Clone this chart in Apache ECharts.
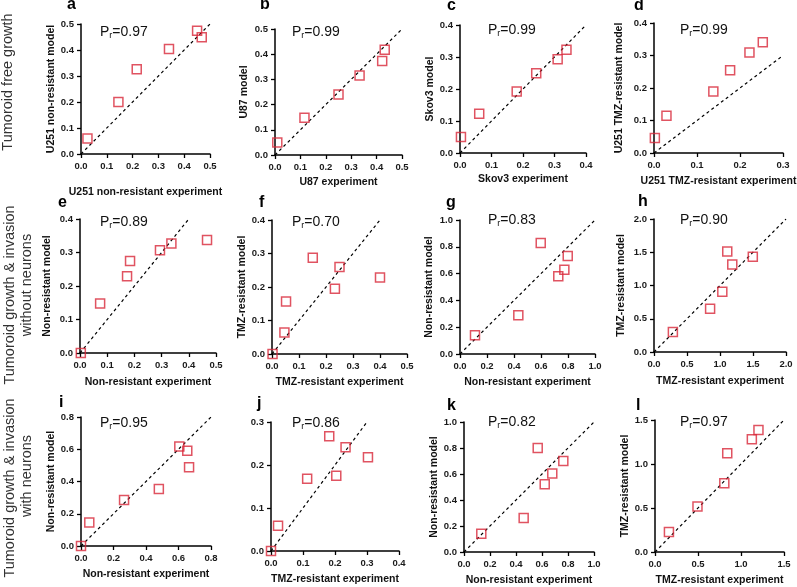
<!DOCTYPE html>
<html>
<head>
<meta charset="utf-8">
<script src="https://cdn.jsdelivr.net/npm/echarts@6/dist/echarts.min.js"></script>
<style>
  html, body { margin: 0; padding: 0; background: #fff; }
  #chart { width: 797px; height: 587px; }
</style>
</head>
<body>
<div id="chart"></div>
<script>
// panel letters, axis titles and correlation labels
const panelIds = ['a','b','c','d','e','f','g','h','i','j','k','l'];
const xNames = [
  'U251 non-resistant experiment', 'U87 experiment', 'Skov3 experiment', 'U251 TMZ-resistant experiment',
  'Non-resistant experiment', 'TMZ-resistant experiment', 'Non-resistant experiment', 'TMZ-resistant experiment',
  'Non-resistant experiment', 'TMZ-resistant experiment', 'Non-resistant experiment', 'TMZ-resistant experiment'
];
const yNames = [
  'U251 non-resistant model', 'U87 model', 'Skov3 model', 'U251 TMZ-resistant model',
  'Non-resistant model', 'TMZ-resistant model', 'Non-resistant model', 'TMZ-resistant model',
  'Non-resistant model', '', 'Non-resistant model', 'TMZ-resistant model'
];
const pearson = ['0.97','0.99','0.99','0.99','0.89','0.70','0.83','0.90','0.95','0.86','0.82','0.97'];

// axis ranges
const xMax  = [0.5, 0.5, 0.4, 0.3, 0.5, 0.5, 1.0, 2.0, 0.8, 0.4, 1.0, 1.5];
const xStep = [0.1, 0.1, 0.1, 0.1, 0.1, 0.1, 0.2, 0.5, 0.2, 0.1, 0.2, 0.5];
const yMax  = [0.5, 0.5, 0.4, 0.4, 0.4, 0.4, 1.0, 2.0, 0.8, 0.3, 1.0, 1.5];
const yStep = [0.1, 0.1, 0.1, 0.1, 0.1, 0.1, 0.2, 0.5, 0.2, 0.1, 0.2, 0.5];
// end of the y = x reference line
const diagMax = [0.5, 0.5, 0.4, 0.3, 0.4, 0.4, 1.0, 2.0, 0.8, 0.3, 1.0, 1.5];

// [experiment, model]
const ptsA = [[0.025,0.060],[0.145,0.200],[0.216,0.326],[0.341,0.404],[0.450,0.474],[0.468,0.449]];
const ptsB = [[0.009,0.050],[0.116,0.148],[0.250,0.240],[0.333,0.315],[0.422,0.373],[0.432,0.418]];
const ptsC = [[0.003,0.050],[0.061,0.123],[0.180,0.192],[0.242,0.249],[0.310,0.293],[0.338,0.323]];
const ptsD = [[0.002,0.046],[0.029,0.115],[0.138,0.189],[0.177,0.255],[0.222,0.309],[0.253,0.341]];
const ptsE = [[0.003,0.000],[0.074,0.148],[0.173,0.229],[0.184,0.275],[0.294,0.307],[0.336,0.327],[0.467,0.337]];
const ptsF = [[0.002,0.000],[0.046,0.064],[0.052,0.157],[0.151,0.287],[0.233,0.195],[0.250,0.260],[0.400,0.228]];
const ptsG = [[0.111,0.139],[0.432,0.289],[0.598,0.828],[0.728,0.580],[0.773,0.629],[0.798,0.731]];
const ptsH = [[0.286,0.300],[0.850,0.650],[1.035,0.905],[1.110,1.510],[1.186,1.317],[1.497,1.432]];
const ptsI = [[0.000,0.000],[0.051,0.146],[0.265,0.285],[0.479,0.353],[0.605,0.617],[0.654,0.590],[0.665,0.489]];
const ptsJ = [[0.000,0.000],[0.022,0.059],[0.113,0.168],[0.182,0.267],[0.204,0.175],[0.233,0.241],[0.303,0.218]];
const ptsK = [[0.133,0.141],[0.459,0.261],[0.567,0.800],[0.621,0.522],[0.679,0.604],[0.764,0.700]];
const ptsL = [[0.162,0.227],[0.494,0.518],[0.806,0.782],[0.840,1.122],[1.126,1.281],[1.203,1.387]];
const allPts = [ptsA, ptsB, ptsC, ptsD, ptsE, ptsF, ptsG, ptsH, ptsI, ptsJ, ptsK, ptsL];

const rowLabels = [
  ['Tumoroid free growth'],
  ['Tumoroid growth & invasion', 'without neurons'],
  ['Tumoroid growth & invasion', 'with neurons']
];

/* layout (pixels) */
// plot boxes: left, top, right, bottom
const boxes = [
  [81, 24, 210, 154], [275, 29, 402, 155], [460, 25, 586, 153], [654, 23, 783, 153],
  [80, 219, 216, 353], [272, 220, 407, 354], [460, 220, 595, 354], [654, 219, 786, 352],
  [81, 417, 211, 546], [271, 422, 399, 551], [464, 422, 594, 552], [655, 420, 784, 552]
];
const xGap = [33, 22, 21, 23, 24, 23, 23, 24, 23, 23, 23, 23];
const yGap = [23, 25, 24, 29, 27, 24, 25, 27, 24, 24, 23, 24];
const letterPos = [[67,5],[260,5],[447,6],[634,6],[58,203],[259,203],[446,203],[638,202],[59,403],[257,404],[447,406],[636,406]];
const prPos = [[100,32],[292,32],[488,30],[680,30],[100,222],[292,222],[488,220],[680,220],[100,423],[292,423],[488,422],[680,422]];

const FONT = '"Liberation Sans", Arial, Helvetica, sans-serif';
const RED = '#d8283a';

const grids = [], xAxes = [], yAxes = [], series = [], graphics = [];

boxes.forEach(function (b, i) {
  grids.push({ left: b[0], top: b[1], width: b[2] - b[0], height: b[3] - b[1], outerBoundsMode: 'none' });
  const axisCommon = {
    nameLocation: 'middle',
    nameTextStyle: { fontFamily: FONT, fontWeight: 'bold', fontSize: 10.5, color: '#111' },
    axisLine: { show: true, lineStyle: { color: '#000', width: 1.5 } },
    axisTick: { show: true, length: 4, lineStyle: { color: '#000', width: 1.3 } },
    axisLabel: {
      fontFamily: FONT, fontWeight: 'bold', fontSize: 9.5, color: '#1a1a1a', margin: 7,
      formatter: function (v) { return v.toFixed(1); }
    },
    splitLine: { show: false }
  };
  xAxes.push(Object.assign({}, axisCommon, {
    type: 'value', gridIndex: i, min: 0, max: xMax[i], interval: xStep[i],
    name: xNames[i], nameGap: xGap[i]
  }));
  yAxes.push(Object.assign({}, axisCommon, {
    type: 'value', gridIndex: i, min: 0, max: yMax[i], interval: yStep[i],
    name: yNames[i], nameGap: yGap[i]
  }));
  series.push({
    type: 'line', xAxisIndex: i, yAxisIndex: i, silent: true,
    data: [[0, 0], [diagMax[i], diagMax[i]]],
    symbol: 'none', lineStyle: { color: '#000', width: 1.2, type: [3, 3] }, z: 2
  });
  series.push({
    type: 'scatter', xAxisIndex: i, yAxisIndex: i, clip: false,
    data: allPts[i], symbol: 'rect', symbolSize: 9,
    itemStyle: { color: 'rgba(0,0,0,0)', borderColor: RED, borderWidth: 1.5 }, z: 3
  });
  graphics.push({
    type: 'text', x: letterPos[i][0], y: letterPos[i][1],
    style: { text: panelIds[i], font: 'bold 16px ' + FONT, fill: '#000', verticalAlign: 'middle' }
  });
  graphics.push({
    type: 'text', x: prPos[i][0], y: prPos[i][1],
    style: {
      text: '{p|P}{s|r}{p|=' + pearson[i] + '}', verticalAlign: 'middle',
      rich: {
        p: { fontFamily: FONT, fontSize: 14, fill: '#111', color: '#111' },
        s: { fontFamily: FONT, fontSize: 9, fill: '#111', color: '#111', padding: [7, 0, 0, 0] }
      }
    }
  });
});

// row labels on the left, rotated
const rowCenters = [[[8, 82]], [[10, 295], [27, 285]], [[10, 488], [27, 476]]];
rowLabels.forEach(function (lines, r) {
  lines.forEach(function (t, k) {
    graphics.push({
      type: 'text', x: rowCenters[r][k][0], y: rowCenters[r][k][1], rotation: Math.PI / 2,
      style: { text: t, font: '14.5px ' + FONT, fill: '#333', align: 'center', verticalAlign: 'middle' }
    });
  });
});

var myChart = echarts.init(document.getElementById('chart'));
myChart.setOption({
  backgroundColor: '#fff',
  animation: false,
  grid: grids,
  xAxis: xAxes,
  yAxis: yAxes,
  series: series,
  graphic: graphics
});
</script>
</body>
</html>
